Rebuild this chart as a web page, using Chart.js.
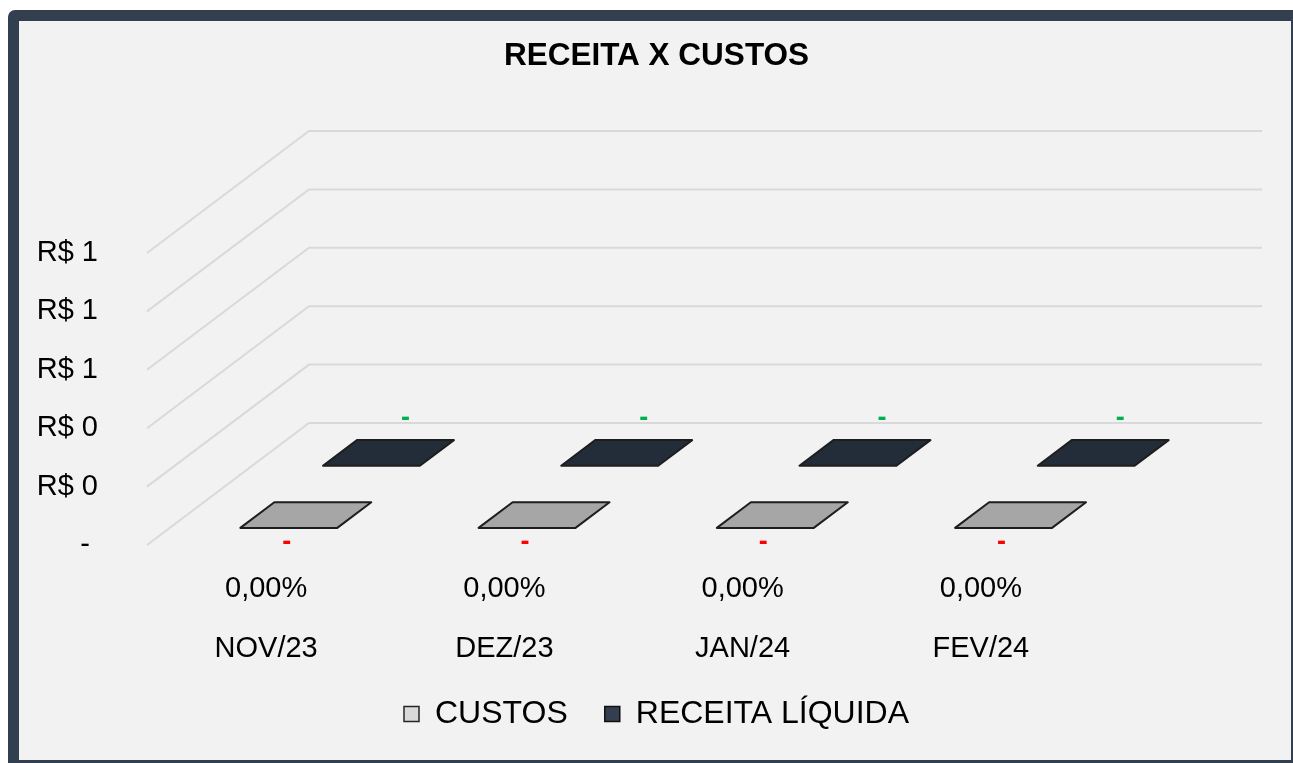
<!DOCTYPE html>
<html>
<head>
<meta charset="utf-8">
<script src="https://cdn.jsdelivr.net/npm/chart.js@4.4.0/dist/chart.umd.min.js"></script>
<style>
    html, body { margin: 0; padding: 0; background: #fff; overflow: hidden; width: 1293px; height: 763px; }
    #moldura { position: absolute; left: 8px; top: 10px; width: 1294px; height: 761px; box-sizing: border-box;
        border: 11px solid #323f4f; border-radius: 7px; background: #f2f2f2; }
    #grafico { position: absolute; left: 0; top: 0; }
</style>
</head>
<body>
<div id="moldura"></div>
<canvas id="grafico" width="1293" height="763"></canvas>
<script>
// dados do grafico
const meses = ["NOV/23", "DEZ/23", "JAN/24", "FEV/24"];
const margens = ["0,00%", "0,00%", "0,00%", "0,00%"];
const custos = [0, 0, 0, 0];
const receitaLiquida = [0, 0, 0, 0];
const escalaMin = 0;
const escalaMax = 1;
const escalaPasso = 0.2;

// deslocamento da profundidade (efeito 3D)
const DX = 162;
const DY = -122;

const fmtValor = (v) => (v === 0 ? "-" : "R$ " + v.toLocaleString("pt-BR"));

Chart.defaults.font.family = "'Liberation Sans', Arial, sans-serif";
Chart.defaults.color = "#000";

// desenha grade em perspectiva e as barras 3D
const efeito3d = {
    id: "efeito3d",
    beforeDatasetsDraw(chart) {
        const { ctx, chartArea } = chart;
        const y = chart.scales.y;
        ctx.save();
        ctx.strokeStyle = "#d9d9d9";
        ctx.lineWidth = 2;
        y.ticks.forEach((t) => {
            const py = y.getPixelForValue(t.value);
            ctx.beginPath();
            ctx.moveTo(chartArea.left, py);
            ctx.lineTo(chartArea.left + DX, py + DY);
            ctx.lineTo(chartArea.right + DX, py + DY);
            ctx.stroke();
        });
        ctx.restore();
    },
    beforeDatasetDraw(chart, args) {
        const { ctx } = chart;
        const ds = chart.data.datasets[args.index];
        const [t0, t1] = ds.profundidade;
        ctx.save();
        ctx.lineJoin = "round";
        args.meta.data.forEach((bar) => {
            const { x, y, base, width } = bar.getProps(["x", "y", "base", "width"], true);
            const l = x - width / 2;
            const r = x + width / 2;
            const top = Math.min(y, base);
            const bot = Math.max(y, base);
            const p = (px, py, t) => [px + DX * t, py + DY * t];
            const poly = (pts, fill) => {
                ctx.beginPath();
                pts.forEach(([a, b], i) => (i ? ctx.lineTo(a, b) : ctx.moveTo(a, b)));
                ctx.closePath();
                ctx.fillStyle = fill;
                ctx.fill();
                ctx.strokeStyle = "#1e1e1e";
                ctx.lineWidth = 2;
                ctx.stroke();
            };
            if (bot - top > 0.5) {
                poly([p(l, top, t0), p(r, top, t0), p(r, bot, t0), p(l, bot, t0)], ds.corFrente);
                poly([p(r, top, t0), p(r, top, t1), p(r, bot, t1), p(r, bot, t0)], ds.corLado);
            }
            poly([p(l, top, t0), p(r, top, t0), p(r, top, t1), p(l, top, t1)], ds.corTopo);
        });
        ctx.restore();
        return false;
    },
    afterDatasetsDraw(chart) {
        const { ctx } = chart;
        ctx.save();
        ctx.font = "bold 27px 'Liberation Sans', Arial, sans-serif";
        ctx.textAlign = "center";
        ctx.textBaseline = "middle";
        chart.data.datasets.forEach((ds, i) => {
            const [t0, t1] = ds.profundidade;
            chart.getDatasetMeta(i).data.forEach((bar, j) => {
                const { x, y, base } = bar.getProps(["x", "y", "base"], true);
                ctx.fillStyle = ds.corRotulo;
                if (ds.rotuloAbaixo) {
                    ctx.fillText(fmtValor(ds.data[j]), x + DX * t0 - 2, Math.max(y, base) + DY * t0 + 15);
                } else {
                    ctx.fillText(fmtValor(ds.data[j]), x + DX * t1, Math.min(y, base) + DY * t1 - 22);
                }
            });
        });
        ctx.restore();
    },
};

new Chart(document.getElementById("grafico"), {
    type: "bar",
    data: {
        labels: meses.map((m, i) => [margens[i], m]),
        datasets: [
            {
                label: "CUSTOS",
                data: custos,
                backgroundColor: "#d9d9d9",
                borderColor: "#262626",
                borderWidth: 1.5,
                corTopo: "#a6a6a6",
                corFrente: "#bfbfbf",
                corLado: "#8c8c8c",
                corRotulo: "#ff0000",
                rotuloAbaixo: true,
                profundidade: [0.14, 0.35],
            },
            {
                label: "RECEITA LÍQUIDA",
                data: receitaLiquida,
                backgroundColor: "#333f50",
                borderColor: "#111",
                borderWidth: 1.5,
                corTopo: "#232d3a",
                corFrente: "#333f50",
                corLado: "#1c2430",
                corRotulo: "#00b050",
                rotuloAbaixo: false,
                profundidade: [0.65, 0.86],
            },
        ],
    },
    options: {
        responsive: false,
        animation: false,
        devicePixelRatio: 1,
        layout: { padding: { left: 20, right: 0, top: 0, bottom: 23 } },
        datasets: { bar: { grouped: false, categoryPercentage: 1, barPercentage: 0.407 } },
        plugins: {
            tooltip: { enabled: false },
            title: {
                display: true,
                text: "RECEITA X CUSTOS",
                color: "#000",
                font: { size: 31.5, weight: "bold" },
                padding: { top: 37, bottom: 178.2 },
            },
            legend: {
                position: "bottom",
                labels: {
                    boxWidth: 15,
                    boxHeight: 15,
                    padding: 37,
                    color: "#000",
                    font: { size: 32 },
                },
            },
        },
        scales: {
            x: {
                grid: { display: false, drawTicks: false },
                border: { display: false },
                ticks: {
                    autoSkip: false,
                    maxRotation: 0,
                    padding: 14,
                    font: { size: 29, lineHeight: 60 / 29 },
                },
                afterFit: (s) => { s.height = 116; },
            },
            y: {
                min: escalaMin,
                max: escalaMax,
                grid: { display: false, drawTicks: false },
                border: { display: false },
                ticks: {
                    stepSize: escalaPasso,
                    padding: 49,
                    font: { size: 29 },
                    callback: (v) => (v === 0 ? "- " : "R$ " + Math.round(v)),
                },
                afterFit: (s) => { s.width = 127; },
            },
            direita: {
                position: "right",
                grid: { display: false },
                border: { display: false },
                ticks: { display: false },
                afterFit: (s) => { s.width = 193; },
            },
        },
    },
    plugins: [efeito3d],
});
</script>
</body>
</html>
